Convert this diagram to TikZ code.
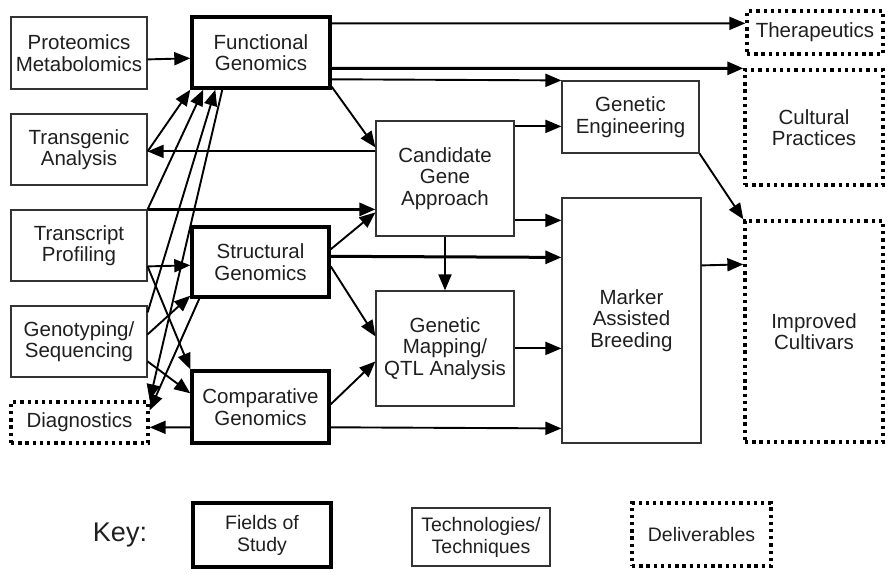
\documentclass[tikz,border=0pt]{standalone}
\usepackage{fontspec}
\setmainfont{Liberation Sans}
\usetikzlibrary{arrows.meta,calc}
\begin{document}
\begin{tikzpicture}[x=1pt,y=-1pt,
  every node/.style={font=\fontsize{20.5}{21.5}\selectfont, text=black!88, align=center, inner sep=0pt, rectangle},
  tech/.style={draw=black!80, line width=1.2pt},
  field/.style={draw=black, line width=3.4pt},
  deliv/.style={draw=black, line width=3.3pt, dash pattern=on 3.3pt off 3.9pt},
  arr/.style={line width=1.9pt, -{Triangle[length=16pt,width=13pt]}},
  harr/.style={arr, line width=3pt},
  keytxt/.style={font=\fontsize{19.5}{22}\selectfont}
]
\useasboundingbox (0,0) rectangle (888,573);

% boxes
\node[tech, minimum width=136pt, minimum height=72pt] (prot) at (79,53) {Proteomics\\Metabolomics};
\node[field, minimum width=138pt, minimum height=71pt] (func) at (261,52.5) {Functional\\Genomics};
\node[tech, minimum width=136pt, minimum height=71pt] (trans) at (79,149.5) {Transgenic\\Analysis};
\node[tech, minimum width=136pt, minimum height=71pt] (tprof) at (79,245.5) {Transcript\\Profiling};
\node[tech, minimum width=136pt, minimum height=71pt] (geno) at (79,341.5) {Genotyping/\\Sequencing};
\node[deliv, minimum width=137pt, minimum height=41pt] (diag) at (79.5,422.5) {Diagnostics};
\node[field, minimum width=137pt, minimum height=70pt] (struct) at (260.5,262) {Structural\\Genomics};
\node[field, minimum width=137pt, minimum height=72pt] (comp) at (260.5,407) {Comparative\\Genomics};
\node[tech, minimum width=138pt, minimum height=115pt] (cand) at (445,178.5) {Candidate\\Gene\\Approach};
\node[tech, minimum width=138pt, minimum height=115pt] (gmap) at (445,348.5) {Genetic\\Mapping/\\QTL Analysis};
\node[tech, minimum width=137pt, minimum height=72pt] (geng) at (630.5,117) {Genetic\\Engineering};
\node[tech, minimum width=139pt, minimum height=245pt] (mab) at (631.5,320.5) {Marker\\Assisted\\Breeding};
\node[deliv, minimum width=136pt, minimum height=43pt] (ther) at (815,32.5) {Therapeutics};
\node[deliv, minimum width=138pt, minimum height=115pt] (cult) at (814,127.5) {Cultural\\Practices};
\node[deliv, minimum width=138pt, minimum height=221pt] (impr) at (814,331.5) {Improved\\Cultivars};

% key
\node[font=\fontsize{27}{30}\selectfont] (key) at (120,535) {Key:};
\node[field, keytxt, minimum width=138pt, minimum height=64pt] (kf) at (262,535) {Fields of\\Study};
\node[tech, keytxt, minimum width=138pt, minimum height=58pt] (kt) at (481,537) {Technologies/\\Techniques};
\node[deliv, keytxt, minimum width=139pt, minimum height=63pt] (kd) at (701.5,534.5) {Deliverables};

% right-going connectors
\draw[arr] ($(prot.north east)+(0,43)$) -- ($(func.north west)+(0,43)$);
\draw[arr] ($(func.north east)+(0,8)$) -- ($(ther.north west)+(0,14)$);
\draw[harr] ($(func.north east)+(0,53)$) -- (cult.north west);
\draw[arr] ($(func.north east)+(0,64)$) -- (geng.north west);
\draw[arr] ($(func.south east)+(0,-3)$) -- ($(cand.north west)+(0,27)$);
\draw[arr] ($(cand.north west)+(0,31)$) -- ($(trans.north east)+(0,38)$);
\draw[arr] ($(cand.north east)+(0,6)$) -- ($(geng.north west)+(0,46)$);
\draw[arr] ($(cand.north east)+(0,100)$) -- ($(mab.north west)+(0,23)$);
\draw[arr] (cand.south) -- (gmap.north);
\draw[harr] (tprof.north east) -- ($(cand.north west)+(0,89)$);
\draw[arr] ($(struct.north east)+(0,24)$) -- ($(cand.north west)+(0,92)$);
\draw[harr] ($(struct.north east)+(0,31)$) -- ($(mab.north west)+(0,60)$);
\draw[arr] ($(struct.north east)+(0,41)$) -- ($(gmap.north west)+(0,46)$);
\draw[arr] ($(comp.north east)+(0,35)$) -- ($(gmap.north west)+(0,71)$);
\draw[arr] ($(gmap.north east)+(0,58)$) -- ($(mab.north west)+(0,151)$);
\draw[arr] ($(comp.north east)+(0,58)$) -- ($(mab.north west)+(0,231)$);
\draw[arr] ($(comp.north west)+(0,58)$) -- ($(diag.north east)+(0,27)$);
\draw[arr] ($(mab.north east)+(0,68)$) -- ($(impr.north west)+(0,45)$);
\draw[arr] (geng.south east) -- (impr.north west);

% left crossing connectors
\draw[arr] ($(trans.north east)+(0,38)$) -- (func.south west);
\draw[arr] (tprof.north east) -- ($(func.south west)+(13,0)$);
\draw[arr] ($(geno.north east)+(0,7)$) -- ($(func.south west)+(25,0)$);
\draw[arr] ($(func.south west)+(32,0)$) -- (diag.north east);
\draw[arr] ($(tprof.north east)+(0,57)$) -- ($(struct.north west)+(0,40)$);
\draw[arr] ($(tprof.north east)+(0,57)$) -- (comp.north west);
\draw[arr] ($(geno.north east)+(0,29)$) -- ($(struct.south west)+(0,-3)$);
\draw[arr] ($(geno.north east)+(0,56)$) -- ($(comp.north west)+(0,24)$);
\draw[arr] ($(struct.south west)+(9,0)$) -- ($(diag.north east)+(0,10)$);
\end{tikzpicture}
\end{document}
